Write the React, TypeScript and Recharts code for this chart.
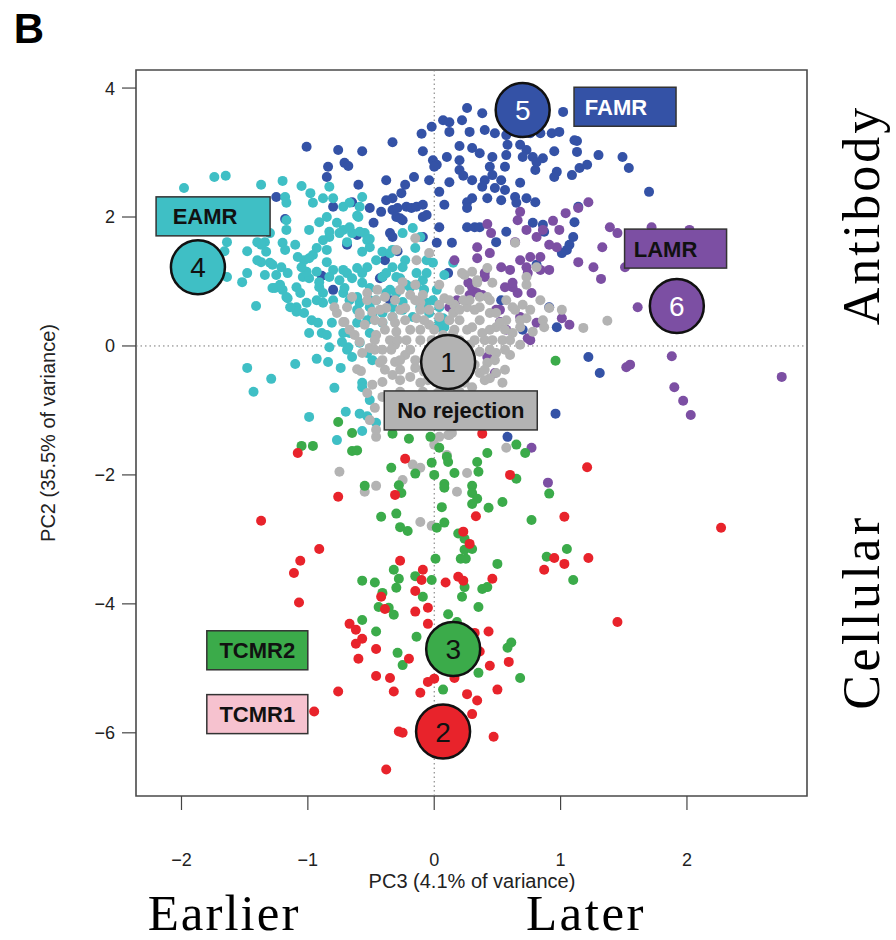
import {
  ScatterChart,
  Scatter,
  XAxis,
  YAxis,
  ReferenceLine,
  ReferenceArea,
} from 'recharts';

// axis ranges and ticks (PC3 on x, PC2 on y)
const xDomain: [number, number] = [-2.36, 2.95];
const yDomain: [number, number] = [-6.98, 4.28];
const xTicks = [-2, -1, 0, 1, 2];
const yTicks = [-6, -4, -2, 0, 2, 4];

// EAMR (cyan)
const eamrPts = [
  [-1.98, 2.45], [-1.74, 2.62], [-1.65, 2.64], [-1.37, 2.5], [-1.2, 2.56], [-1.05, 2.48], [-0.98, 2.37],
  [-1.18, 2.31], [-1.17, 2.22], [-0.96, 2.22], [-0.88, 2.29], [-0.83, 2.47], [-0.8, 2.29], [-0.72, 2.16],
  [-0.59, 2.16], [-0.57, 2.31], [-0.6, 2.0], [-0.85, 2.0], [-0.77, 1.91], [-0.72, 1.8], [-1.17, 1.95],
  [-1.17, 1.8], [-1.3, 1.75], [-1.4, 1.61], [-1.34, 1.61], [-1.48, 1.47], [-1.33, 1.46], [-1.64, 1.61],
  [-1.66, 1.47], [-1.64, 1.07], [-1.52, 0.99], [-1.48, 1.13], [-1.41, 0.62], [-1.37, 1.3], [-1.28, 1.26],
  [-1.2, 1.6], [-1.18, 1.49], [-1.21, 1.22], [-1.16, 1.13], [-1.26, 0.9], [-1.2, 0.87], [-1.16, 0.74],
  [-1.09, 0.91], [-1.06, 0.82], [-1.09, 0.6], [-1.01, 0.67], [-1.03, 0.51], [-0.97, 0.4], [-0.99, 0.2],
  [-0.89, 0.2], [-0.83, -0.02], [-0.68, -0.02], [-1.04, 1.07], [-0.99, 1.05], [-1.03, 1.33], [-0.96, 1.41],
  [-0.93, 1.52], [-0.85, 1.3], [-0.8, 1.18], [-0.75, 1.02], [-0.69, 1.13], [-0.61, 1.21], [-0.57, 1.13],
  [-0.57, 0.98], [-0.51, 0.9], [-0.41, 1.07], [-0.33, 1.22], [-0.27, 1.05], [-0.19, 0.91], [-0.14, 1.13],
  [-0.09, 1.02], [-0.08, 0.87], [0.02, 0.87], [-0.01, 0.71], [-0.17, 1.83], [-0.11, 1.69], [-0.15, 1.52],
  [-0.01, 1.29], [0.15, 1.29], [-0.83, 1.69], [-0.75, 1.75], [-0.69, 1.61], [-0.65, 1.75], [-0.55, 1.75],
  [-0.53, 1.64], [-0.57, 1.46], [-0.46, 1.33], [-0.51, 1.53], [-0.41, 1.46], [-0.33, 1.49], [-0.25, 1.75],
  [-0.23, 1.33], [-0.38, 1.13], [-0.83, 1.07], [-0.91, 0.91], [-0.88, 0.82], [-0.93, 0.71], [-0.88, 0.67],
  [-0.8, 0.71], [-0.72, 0.82], [-0.67, 0.71], [-0.59, 0.67], [-0.51, 0.6], [-0.41, 0.51], [-0.33, 0.45],
  [-0.25, 0.56], [-0.17, 0.45], [-0.11, 0.6], [-0.04, 0.51], [0.04, 0.4], [0.08, 0.29], [-0.72, 0.2],
  [-0.61, 0.36], [-0.53, 0.4], [-0.81, 0.36], [-0.67, 2.22], [-0.61, 2.02], [-0.91, 1.92], [-0.83, 1.77],
  [-0.67, 1.84], [-0.59, 1.77], [-0.51, 1.66], [-0.35, 1.44], [-0.25, 1.22], [-0.06, 1.33], [-0.14, 0.95],
  [-0.22, 0.95], [-0.3, 1.07], [-0.53, 1.22], [-0.72, 1.18], [-0.85, 1.49], [-0.99, 1.36], [-1.01, 1.15],
  [-0.93, 1.15], [-0.91, 0.99], [-0.71, 0.9], [-0.65, 1.05], [-0.61, 0.76], [-0.46, 0.71], [-0.38, 0.82],
  [-0.3, 0.82], [-0.25, 0.68], [-0.33, 0.6], [-0.49, 0.48], [-0.41, 0.36], [-0.51, 0.2], [-0.67, 0.2],
  [-0.73, 0.06], [-0.85, 0.17], [-0.92, 0.36], [-1.09, 0.53], [-1.14, 0.6], [-1.17, 0.76], [-1.22, 0.95],
  [-1.25, 1.1], [-1.3, 1.29], [-1.37, 1.57], [-1.4, 1.33], [-1.34, 1.1], [-1.28, 0.9], [-1.05, 1.22],
  [-1.08, 1.38], [-1.1, 1.57], [-0.99, 1.8], [-0.88, 1.64], [-1.48, -0.34], [-1.29, -0.51], [-1.43, -0.71],
  [-1.1, -0.28], [-0.93, -0.2], [-0.84, -0.25], [-0.74, -0.34], [-0.79, -0.65], [-0.57, -0.57], [-0.53, -0.11],
  [-0.99, -1.1], [-0.7, -1.02], [-0.59, -1.05], [-0.53, -1.09], [-0.57, -1.32], [-0.77, -1.46], [-0.06, 1.13],
  [-0.06, 0.67], [-0.35, 0.87], [-0.51, 0.71], [-0.61, 0.56], [-0.59, 0.05], [-0.69, -0.06], [-0.65, -0.17],
  [-0.49, -0.22], [-0.57, -0.64], [-0.51, -0.84], [0.07, 0.43], [0.03, 0.29], [-0.46, -1.19], [0.08, 1.1],
  [0.04, 0.6],
];

// FAMR (dark blue)
const famrPts = [
  [-1.01, 3.09], [-0.76, 3.04], [-0.57, 3.02], [-0.84, 2.78], [-0.71, 2.84], [-0.68, 2.79], [-0.85, 2.62],
  [-0.6, 2.5], [-0.33, 3.16], [-0.1, 3.29], [-0.02, 3.4], [0.07, 3.5], [0.12, 3.47], [0.22, 3.5],
  [0.26, 3.69], [0.12, 3.32], [-0.09, 3.02], [0.2, 3.1], [0.1, 2.93], [0.2, 2.88], [-0.01, 2.88],
  [0.02, 2.81], [0.2, 2.73], [-0.16, 2.62], [-0.23, 2.5], [-0.26, 2.37], [-0.38, 2.57], [-0.04, 2.57],
  [0.04, 2.39], [0.12, 2.54], [0.08, 2.19], [0.26, 2.23], [-0.33, 2.29], [-0.33, 2.11], [-0.29, 2.14],
  [-0.22, 2.16], [-0.18, 2.14], [-0.14, 2.16], [-0.09, 2.19], [-0.3, 2.0], [-0.25, 1.95], [-0.42, 2.08],
  [-0.51, 2.14], [-0.65, 2.23], [-0.8, 2.16], [-1.25, 2.31], [-1.18, 1.97], [-0.48, 1.91], [-0.35, 1.75],
  [-0.33, 1.69], [-0.09, 1.69], [0.04, 1.84], [0.02, 1.6], [0.14, 1.6], [-0.69, 1.57], [-0.29, 1.47],
  [-0.39, 1.33], [0.11, 1.13], [-0.89, 1.09], [-0.43, 1.05], [-0.8, 0.87], [-0.35, 0.71], [0.38, 3.61],
  [0.28, 3.32], [0.4, 3.35], [0.48, 3.3], [0.57, 3.27], [0.68, 3.3], [0.76, 3.3], [0.84, 3.3],
  [0.93, 3.3], [0.99, 3.32], [1.02, 3.63], [1.13, 3.18], [0.95, 3.02], [1.13, 3.01], [1.3, 2.96],
  [0.3, 3.07], [0.36, 2.99], [0.46, 2.93], [0.57, 2.96], [0.58, 3.12], [0.68, 3.12], [0.73, 3.04],
  [0.7, 2.93], [0.78, 2.93], [0.86, 2.91], [0.8, 2.73], [0.81, 2.85], [0.97, 2.7], [0.95, 2.62],
  [1.09, 2.65], [1.15, 2.76], [1.21, 2.81], [0.0, 2.78], [0.23, 2.64], [0.44, 2.78], [0.46, 2.65],
  [0.56, 2.78], [0.53, 2.57], [0.68, 2.53], [0.3, 2.57], [0.4, 2.57], [0.38, 2.47], [0.48, 2.45],
  [0.56, 2.42], [0.3, 2.29], [0.42, 2.29], [0.53, 2.26], [0.64, 2.31], [0.65, 2.22], [0.73, 2.29],
  [0.8, 2.23], [0.26, 2.14], [-0.09, 2.0], [0.26, 1.84], [0.32, 1.84], [0.36, 1.84], [0.57, 1.77],
  [0.78, 1.91], [0.86, 1.88], [0.87, 1.77], [1.11, 1.92], [1.14, 2.16], [1.1, 1.69], [1.07, 1.57],
  [1.05, 1.49], [1.01, 1.44], [0.49, 1.61], [0.81, 1.26], [1.49, 2.93], [1.54, 2.76], [1.7, 2.39],
  [1.11, 3.19], [0.53, 0.71], [0.91, 0.6], [0.97, 0.29], [0.7, 0.25], [1.22, -0.17], [1.31, -0.42],
  [0.96, -1.05], [0.58, -1.41], [-0.61, 1.72], [-0.41, 1.07], [-0.38, 2.26], [-0.27, 1.98], [-0.06, 2.03],
];

// LAMR (purple)
const lamrPts = [
  [1.22, 2.23], [1.14, 2.14], [1.04, 2.06], [0.94, 1.94], [0.99, 1.8], [0.86, 1.8], [0.81, 1.69],
  [0.73, 1.8], [0.66, 1.95], [0.68, 2.08], [0.42, 1.89], [0.45, 1.75], [0.34, 1.53], [0.44, 1.44],
  [0.4, 1.07], [0.3, 0.91], [0.34, 0.82], [0.53, 1.22], [0.6, 1.18], [0.68, 1.33], [0.64, 1.61],
  [0.76, 1.38], [0.74, 1.13], [0.84, 1.18], [0.91, 1.18], [0.77, 0.82], [0.66, 0.82], [0.62, 0.91],
  [0.56, 0.91], [0.52, 0.56], [0.68, 0.45], [0.81, 0.36], [0.74, 0.12], [0.57, 0.25], [1.07, 0.33],
  [1.01, 0.43], [0.97, 1.53], [0.91, 1.57], [1.14, 1.3], [1.26, 1.22], [1.32, 1.04], [1.33, 1.53],
  [1.39, 1.84], [1.45, 1.75], [1.51, 1.22], [1.61, 0.6], [1.72, 1.84], [2.02, 1.8], [0.18, 0.71],
  [0.16, 1.33], [0.12, 0.6], [0.34, 1.36], [0.4, 1.13], [0.27, 0.98], [0.28, 0.79], [0.38, 0.79],
  [0.49, 0.56], [0.52, 0.37], [0.62, 0.98], [0.73, 1.22], [0.76, 0.09], [0.48, -0.42], [0.84, 1.38],
  [0.42, -0.17], [0.77, -1.58], [1.52, -0.33], [1.55, -0.29], [1.88, -0.16], [1.9, -0.64], [1.97, -0.85],
  [2.03, -1.07], [2.75, -0.48], [0.9, -2.12],
];

// No rejection (grey)
const noRejPts = [
  [-0.71, 0.37], [-0.67, 0.25], [-0.59, 0.06], [-0.46, 0.17], [-0.41, 0.37], [-0.45, 0.87], [-0.39, 0.76],
  [-0.25, 0.99], [-0.15, 0.95], [-0.09, 0.79], [-0.23, 0.59], [-0.14, 0.43], [-0.04, 0.33], [-0.3, 0.22],
  [-0.22, 0.09], [-0.41, -0.06], [-0.43, -0.26], [-0.33, -0.45], [-0.19, -0.48], [-0.11, -0.57], [0.03, -0.57],
  [0.18, -0.64], [0.3, -0.64], [0.36, -0.42], [0.42, -0.26], [0.49, -0.11], [0.54, 0.09], [0.62, 0.2],
  [0.68, 0.29], [0.73, 0.43], [0.57, 0.4], [0.49, 0.29], [0.38, 0.2], [0.26, 0.25], [0.15, 0.2],
  [0.07, 0.17], [0.44, 0.51], [0.36, 0.6], [0.26, 0.6], [0.15, 0.51], [0.04, 0.45], [0.2, 0.87],
  [0.34, 0.98], [0.42, 0.76], [0.24, 1.1], [0.3, 1.15], [0.46, 0.98], [0.57, 0.71], [0.7, 0.64],
  [0.84, 0.71], [0.86, 0.4], [0.73, 0.95], [0.78, 0.22], [0.54, -0.57], [-0.49, -0.6], [-0.53, -0.73],
  [-0.41, -0.79], [-0.47, -0.96], [-0.14, -0.84], [-0.09, -0.71], [-0.33, 0.45], [-0.49, 0.53], [-0.59, 0.48],
  [-0.69, 0.6], [-0.65, 0.76], [-0.53, 0.82], [-0.38, 0.59], [-0.11, 0.67], [0.04, 0.64], [-0.75, -1.95],
  [-0.55, -2.26], [-0.46, -2.17], [-0.46, -1.41], [-0.46, -1.3], [-0.61, -0.36], [-0.58, -0.39], [-0.41, -0.56],
  [-0.51, -1.15], [-0.11, -2.73], [-0.02, -2.79], [0.11, -1.38], [0.14, -1.35], [0.18, -2.26], [0.26, -1.97],
  [-0.25, -2.08], [-0.17, -1.84], [-0.11, -1.89], [-0.57, -0.11], [-0.41, -0.22], [0.49, -0.42], [0.57, -1.58],
  [0.04, -1.41], [0.12, -1.38], [0.0, -1.53], [0.1, -1.69], [0.64, 1.6], [0.42, 1.21], [0.73, 1.07],
  [0.81, 1.22], [1.01, 0.56], [1.18, 0.28], [1.37, 0.39], [0.87, 0.29], [0.91, 0.59], [0.62, 0.6],
  [0.22, 1.13], [0.34, 1.02], [0.23, 0.71], [0.12, 0.4], [0.36, 0.76], [0.49, 0.51], [0.52, 0.36],
  [0.3, 0.29], [-0.15, 1.67], [-0.3, 1.49], [-0.04, 1.44], [-0.14, 1.33], [-0.46, 0.71], [-0.53, 0.71],
  [-0.59, 0.51], [-0.77, 0.51], [-0.72, 0.37], [-0.79, 0.6], [-0.31, 0.02], [-0.23, -0.14], [-0.31, -0.25],
  [-0.15, -0.34], [-0.08, -0.4], [-0.19, 0.25], [-0.11, 0.09], [-0.31, 0.36], [0.28, 0.02], [0.36, -0.09],
  [0.4, 0.09], [0.32, -0.29], [0.24, -0.57], [0.44, -0.5], [0.6, -0.14], [0.68, 0.02], [-0.63, 0.17],
  [-0.55, 0.33], [-0.51, -0.03], [-0.35, 0.09], [-0.04, 0.56], [0.08, 0.74], [0.16, 0.64], [-0.27, 0.87],
  [-0.19, 0.79], [0.04, 0.95],
  [-0.31, 0.71], [-0.15, 0.71], [0.12, 0.71], [0.28, 0.71], [0.44, 0.71], [-0.43, 0.56], [-0.27, 0.56],
  [-0.11, 0.56], [0.2, 0.56], [0.32, 0.56], [0.64, 0.56], [0.76, 0.56], [-0.47, 0.4], [-0.23, 0.4],
  [-0.08, 0.4], [0.2, 0.4], [0.36, 0.4], [0.68, 0.4], [-0.39, 0.25], [-0.11, 0.25], [0.0, 0.25],
  [0.16, 0.25], [0.44, 0.25], [0.56, 0.25], [-0.47, 0.09], [-0.29, 0.09], [-0.02, 0.09], [0.2, 0.09],
  [0.32, 0.09], [0.46, 0.09], [0.6, 0.09], [-0.47, -0.06], [-0.34, -0.06], [-0.19, -0.06], [0.24, -0.06],
  [0.44, -0.06], [0.56, -0.06], [-0.27, -0.22], [-0.15, -0.22], [0.28, -0.22], [0.48, -0.22], [-0.39, -0.37],
  [-0.27, -0.37], [0.2, -0.37], [0.4, -0.37], [0.56, -0.37], [-0.27, -0.53], [-0.05, -0.53], [0.11, -0.53],
  [0.4, -0.53], [-0.27, -0.71], [0.04, -0.71], [0.2, -0.71],
];

// TCMR2 (green)
const tcmr2Pts = [
  [-0.76, -1.18], [-0.65, -1.35], [-1.05, -1.55], [-0.96, -1.55], [-0.65, -1.63], [-0.61, -1.62], [-0.33, -1.36],
  [-0.2, -1.44], [-0.03, -1.41], [0.04, -1.58], [0.1, -1.72], [0.11, -1.8], [-0.02, -1.81], [-0.34, -1.89],
  [-0.15, -1.98], [0.0, -2.0], [0.16, -1.97], [0.08, -2.14], [0.08, -2.2], [-0.28, -2.16], [-0.26, -2.28],
  [-0.55, -2.17], [0.06, -2.5], [-0.42, -2.65], [-0.3, -2.6], [-0.27, -2.81], [-0.21, -2.87], [0.02, -2.82],
  [0.08, -2.74], [0.19, -2.91], [0.24, -2.99], [0.01, -3.3], [0.21, -3.3], [0.25, -3.3], [0.24, -3.16],
  [-0.32, -3.47], [-0.28, -3.61], [-0.57, -3.64], [-0.47, -3.67], [-0.3, -3.75], [-0.15, -3.57], [-0.02, -3.63],
  [0.24, -3.74], [-0.41, -3.83], [-0.09, -3.89], [0.96, -0.23], [0.65, -1.53], [0.72, -1.66], [0.42, -1.66],
  [0.34, -1.8], [0.35, -1.95], [0.3, -2.17], [0.3, -2.28], [0.34, -2.37], [0.3, -2.45], [0.43, -2.51],
  [0.54, -2.42], [0.65, -2.06], [0.91, -2.29], [0.77, -2.7], [0.3, -3.15], [0.5, -3.38], [0.89, -3.27],
  [1.05, -3.15], [1.1, -3.63], [0.38, -3.77], [0.42, -3.74], [0.22, -3.89], [-0.57, -4.25], [-0.46, -4.43],
  [-0.44, -4.05], [-0.36, -4.06], [-0.32, -4.17], [-0.29, -4.76], [-0.25, -4.95], [-0.14, -4.51], [0.07, -5.33],
  [0.11, -4.16], [0.35, -4.05], [0.18, -4.28], [0.61, -4.6], [0.58, -4.68], [0.68, -5.15], [0.35, -5.07],
];

// TCMR1 (red)
const tcmr1Pts = [
  [-1.08, -1.66], [-0.76, -2.34], [-1.37, -2.71], [-0.91, -3.15], [-1.06, -3.33], [-1.11, -3.52], [-0.23, -1.75],
  [-0.31, -2.31], [-0.27, -3.33], [-0.09, -3.47], [-0.1, -3.63], [-0.15, -3.8], [-0.42, -3.89], [0.09, -3.67],
  [0.19, -3.58], [0.23, -2.88], [0.38, -1.36], [0.6, -2.0], [1.21, -1.88], [0.33, -2.64], [1.03, -2.65],
  [2.27, -2.82], [0.28, -3.07], [0.95, -3.29], [1.03, -3.38], [1.22, -3.29], [0.87, -3.47], [0.23, -3.64],
  [0.46, -3.61], [-1.07, -3.98], [-0.67, -4.31], [-0.62, -4.4], [-0.57, -4.54], [-0.62, -4.62], [-0.46, -4.7],
  [-0.6, -4.85], [-0.76, -5.36], [-0.95, -5.67], [-0.46, -5.12], [-0.35, -5.15], [-0.32, -5.36], [-0.11, -5.38],
  [-0.05, -5.21], [0.0, -5.16], [-0.28, -5.98], [-0.25, -6.0], [-0.38, -6.57], [-0.15, -4.12], [-0.05, -4.06],
  [-0.05, -4.31], [-0.39, -4.08], [-0.2, -4.85], [0.43, -4.43], [0.44, -4.96], [0.59, -4.9], [0.16, -5.15],
  [0.5, -5.33], [0.26, -5.4], [0.34, -5.5], [0.3, -5.71], [0.47, -6.06], [1.45, -4.28], [0.32, -4.45],
  [0.36, -4.74],
];

// group centres (numbered circles)
const centroids = [
  { id: '1', x: 0.11, y: -0.25 },
  { id: '2', x: 0.07, y: -5.98 },
  { id: '3', x: 0.15, y: -4.7 },
  { id: '4', x: -1.87, y: 1.22 },
  { id: '5', x: 0.7, y: 3.66 },
  { id: '6', x: 1.92, y: 0.62 },
];

// class labels (box centres)
const classLabels = [
  { name: 'FAMR', x: 1.51, y: 3.71 },
  { name: 'LAMR', x: 1.91, y: 1.51 },
  { name: 'EAMR', x: -1.75, y: 2.01 },
  { name: 'No rejection', x: 0.21, y: -1.0 },
  { name: 'TCMR2', x: -1.4, y: -4.72 },
  { name: 'TCMR1', x: -1.4, y: -5.71 },
];

const C = {
  cyan: '#3fbfc5',
  blue: '#3452a6',
  purple: '#7c4fa3',
  grey: '#b3b3b3',
  green: '#3bab4a',
  red: '#e8232b',
  pink: '#f6c2cf',
};

const circleStyle: Record<string, { fill: string; text: string }> = {
  '1': { fill: C.grey, text: '#111' },
  '2': { fill: C.red, text: '#111' },
  '3': { fill: C.green, text: '#111' },
  '4': { fill: C.cyan, text: '#111' },
  '5': { fill: C.blue, text: '#fff' },
  '6': { fill: C.purple, text: '#fff' },
};

const boxStyle: Record<string, { fill: string; text: string; w: number; dx: number }> = {
  FAMR: { fill: C.blue, text: '#fff', w: 102, dx: -9 },
  LAMR: { fill: C.purple, text: '#111', w: 102, dx: -10 },
  EAMR: { fill: C.cyan, text: '#111', w: 114, dx: -8 },
  'No rejection': { fill: C.grey, text: '#111', w: 153, dx: 0 },
  TCMR2: { fill: C.green, text: '#111', w: 101, dx: 0 },
  TCMR1: { fill: C.pink, text: '#111', w: 101, dx: 0 },
};

const sans = '"Liberation Sans", Arial, Helvetica, sans-serif';
const serif = '"Liberation Serif", "Times New Roman", serif';

const toRows = (pts: number[][]) => pts.map(([x, y]) => ({ x, y }));
const minus = (v: number) => String(v).replace('-', '\u2212');

const dot = (color: string) => (p: any) => (
  <circle cx={p.cx} cy={p.cy} r={5} fill={color} />
);

const CentroidShape = (p: any) => {
  const s = circleStyle[p.payload.id];
  return (
    <g>
      <circle cx={p.cx} cy={p.cy} r={27} fill={s.fill} stroke="#111" strokeWidth={2.5} />
      <text x={p.cx} y={p.cy} dy="0.36em" textAnchor="middle" fontFamily={sans} fontSize={28} fill={s.text}>
        {p.payload.id}
      </text>
    </g>
  );
};

const LabelShape = (p: any) => {
  const s = boxStyle[p.payload.name];
  return (
    <g>
      <rect x={p.cx - s.w / 2} y={p.cy - 19.5} width={s.w} height={39} fill={s.fill} stroke="#333" strokeWidth={1.5} />
      <text x={p.cx + s.dx} y={p.cy} dy="0.36em" textAnchor="middle" fontFamily={sans} fontWeight="bold" fontSize={22} fill={s.text}>
        {p.payload.name}
      </text>
    </g>
  );
};

const XTick = (p: any) => (
  <text x={p.x} y={p.y} dy="0.36em" textAnchor="middle" fontFamily={sans} fontSize={18} fill="#222">
    {minus(p.payload.value)}
  </text>
);

const YTick = (p: any) => (
  <text x={p.x} y={p.y} dy="0.36em" textAnchor="end" fontFamily={sans} fontSize={18} fill="#222">
    {minus(p.payload.value)}
  </text>
);

const abs = (left: number, top: number, extra: any = {}) => ({
  position: 'absolute' as const,
  left,
  top,
  transform: 'translate(-50%, -50%)',
  whiteSpace: 'nowrap' as const,
  lineHeight: 1,
  ...extra,
});

export default function App() {
  return (
    <div style={{ position: 'absolute', left: 0, top: 0, width: 896, height: 940, background: '#fff' }}>
      <ScatterChart width={896} height={940} margin={{ top: 70, right: 89, left: 0, bottom: 0 }}>
        <XAxis
          type="number"
          dataKey="x"
          domain={xDomain}
          ticks={xTicks}
          allowDataOverflow
          height={144}
          axisLine={false}
          tickSize={14}
          tickMargin={50}
          tickLine={{ stroke: '#444', strokeWidth: 1.2 }}
          tick={XTick}
        />
        <YAxis
          type="number"
          dataKey="y"
          domain={yDomain}
          ticks={yTicks}
          allowDataOverflow
          width={136}
          axisLine={false}
          tickSize={14}
          tickMargin={7}
          tickLine={{ stroke: '#444', strokeWidth: 1.2 }}
          tick={YTick}
        />
        <ReferenceArea
          x1={xDomain[0]}
          x2={xDomain[1]}
          y1={yDomain[0]}
          y2={yDomain[1]}
          fill="none"
          stroke="#4a4a4a"
          strokeWidth={1.6}
        />
        <ReferenceLine x={0} stroke="#777" strokeDasharray="1.5 3" />
        <ReferenceLine y={0} stroke="#777" strokeDasharray="1.5 3" />
        <Scatter data={toRows(famrPts)} shape={dot(C.blue)} isAnimationActive={false} />
        <Scatter data={toRows(eamrPts)} shape={dot(C.cyan)} isAnimationActive={false} />
        <Scatter data={toRows(lamrPts)} shape={dot(C.purple)} isAnimationActive={false} />
        <Scatter data={toRows(noRejPts)} shape={dot(C.grey)} isAnimationActive={false} />
        <Scatter data={toRows(tcmr2Pts)} shape={dot(C.green)} isAnimationActive={false} />
        <Scatter data={toRows(tcmr1Pts)} shape={dot(C.red)} isAnimationActive={false} />
        <Scatter data={centroids} shape={CentroidShape} isAnimationActive={false} />
        <Scatter data={classLabels} shape={LabelShape} isAnimationActive={false} />
      </ScatterChart>

      <div style={abs(29, 29, { fontFamily: sans, fontWeight: 'bold', fontSize: 42 })}>B</div>
      <div style={abs(48, 433, { fontFamily: sans, fontSize: 20, transform: 'translate(-50%, -50%) rotate(-90deg)', color: '#222' })}>
        PC2 (35.5% of variance)
      </div>
      <div style={abs(472, 881, { fontFamily: sans, fontSize: 20, color: '#222' })}>PC3 (4.1% of variance)</div>
      <div style={abs(224, 913, { fontFamily: serif, fontSize: 51, letterSpacing: 2, lineHeight: 0.8 })}>Earlier</div>
      <div style={abs(586, 913, { fontFamily: serif, fontSize: 51, letterSpacing: 2.5, lineHeight: 0.8 })}>Later</div>
      <div style={abs(862, 215, { fontFamily: serif, fontSize: 52, letterSpacing: 3, transform: 'translate(-50%, -50%) rotate(-90deg)' })}>
        Antibody
      </div>
      <div style={abs(862, 612, { fontFamily: serif, fontSize: 52, letterSpacing: 3.5, transform: 'translate(-50%, -50%) rotate(-90deg)' })}>
        Cellular
      </div>
    </div>
  );
}
